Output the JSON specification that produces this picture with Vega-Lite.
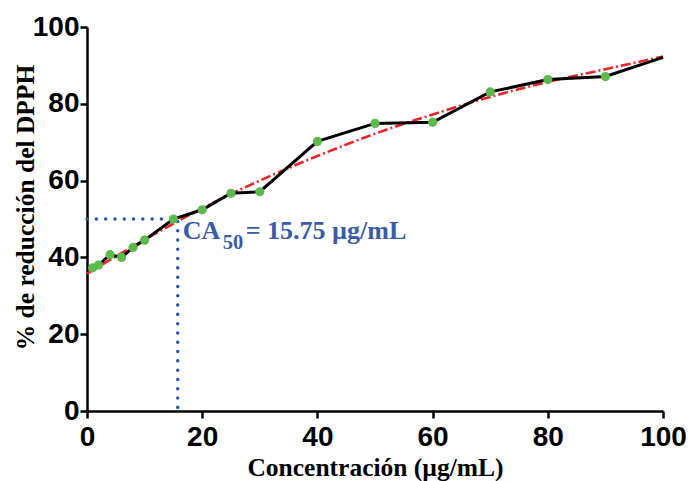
{
  "$schema": "https://vega.github.io/schema/vega-lite/v6.json",
  "width": 576,
  "height": 384,
  "autosize": {"type": "none"},
  "padding": {"left": 87, "top": 27, "right": 27, "bottom": 70},
  "background": "white",
  "config": {
    "view": {"stroke": null},
    "axis": {
      "grid": false,
      "domainColor": "black",
      "domainWidth": 2.5,
      "tickColor": "black",
      "tickWidth": 2.5,
      "tickSize": 7,
      "labelFlush": false,
      "labelOverlap": false,
      "labelFont": "Liberation Sans",
      "labelFontWeight": "bold",
      "labelFontSize": 28,
      "labelColor": "black",
      "titleFont": "Liberation Serif",
      "titleFontWeight": "bold",
      "titleFontSize": 25.5,
      "titleColor": "black"
    }
  },
  "datasets": {
    "mediciones": [
      {"conc": 1, "red": 37.3},
      {"conc": 2, "red": 38.0},
      {"conc": 4, "red": 40.7},
      {"conc": 6, "red": 40.0},
      {"conc": 8, "red": 42.6},
      {"conc": 10, "red": 44.5},
      {"conc": 15, "red": 50.0},
      {"conc": 20, "red": 52.4},
      {"conc": 25, "red": 56.7},
      {"conc": 30, "red": 57.1},
      {"conc": 40, "red": 70.2},
      {"conc": 50, "red": 74.9},
      {"conc": 60, "red": 75.2},
      {"conc": 70, "red": 83.1},
      {"conc": 80, "red": 86.3},
      {"conc": 90, "red": 87.1},
      {"conc": 100, "red": 92.1}
    ],
    "ajuste": [
      {"conc": 0, "red": 35.8},
      {"conc": 10, "red": 44.6},
      {"conc": 20, "red": 52.8},
      {"conc": 30, "red": 60.0},
      {"conc": 40, "red": 66.4},
      {"conc": 50, "red": 72.2},
      {"conc": 60, "red": 77.2},
      {"conc": 70, "red": 81.8},
      {"conc": 80, "red": 85.7},
      {"conc": 90, "red": 89.0},
      {"conc": 100, "red": 92.3}
    ],
    "ca50": [
      {"conc": 0, "red": 50, "orden": 1},
      {"conc": 15.75, "red": 50, "orden": 2},
      {"conc": 15.75, "red": 0, "orden": 3}
    ]
  },
  "encoding": {
    "x": {
      "field": "conc",
      "type": "quantitative",
      "scale": {"domain": [0, 100], "nice": false},
      "axis": {
        "values": [0, 20, 40, 60, 80, 100],
        "title": "Concentración (µg/mL)",
        "labelPadding": 5,
        "titleBaseline": "alphabetic",
        "titleY": 64
      }
    },
    "y": {
      "field": "red",
      "type": "quantitative",
      "scale": {"domain": [0, 100], "nice": false},
      "axis": {
        "values": [0, 20, 40, 60, 80, 100],
        "title": "% de reducción del DPPH",
        "labelPadding": 1,
        "titleBaseline": "alphabetic",
        "titleX": -54,
        "titleY": 180
      }
    }
  },
  "layer": [
    {
      "data": {"name": "ajuste"},
      "mark": {"type": "line", "color": "#ec2327", "strokeWidth": 2.6, "strokeDash": [10, 3, 2, 3], "interpolate": "monotone"},
      "encoding": {}
    },
    {
      "data": {"name": "ca50"},
      "mark": {"type": "line", "color": "#2b50b6", "strokeWidth": 3.4, "strokeDash": [0.1, 9.2], "strokeCap": "round"},
      "encoding": {"order": {"field": "orden"}}
    },
    {
      "data": {"name": "mediciones"},
      "mark": {"type": "line", "color": "black", "strokeWidth": 3},
      "encoding": {}
    },
    {
      "data": {"name": "mediciones"},
      "transform": [{"filter": "datum.conc < 100"}],
      "mark": {"type": "circle", "color": "#5bba4b", "opacity": 1, "size": 85},
      "encoding": {}
    },
    {
      "data": {"name": "ca50"},
      "transform": [{"filter": "datum.orden == 2"}],
      "mark": {"type": "text", "text": "CA", "font": "Liberation Serif", "fontWeight": "bold", "fontSize": 26, "color": "#3a5ba8", "align": "left", "baseline": "alphabetic", "dx": 5, "dy": 19.5},
      "encoding": {}
    },
    {
      "data": {"name": "ca50"},
      "transform": [{"filter": "datum.orden == 2"}],
      "mark": {"type": "text", "text": "50", "font": "Liberation Serif", "fontWeight": "bold", "fontSize": 20.5, "color": "#3a5ba8", "align": "left", "baseline": "alphabetic", "dx": 45, "dy": 30},
      "encoding": {}
    },
    {
      "data": {"name": "ca50"},
      "transform": [{"filter": "datum.orden == 2"}],
      "mark": {"type": "text", "text": "= 15.75 µg/mL", "font": "Liberation Serif", "fontWeight": "bold", "fontSize": 26, "color": "#3a5ba8", "align": "left", "baseline": "alphabetic", "dx": 68, "dy": 19.5},
      "encoding": {}
    }
  ]
}
